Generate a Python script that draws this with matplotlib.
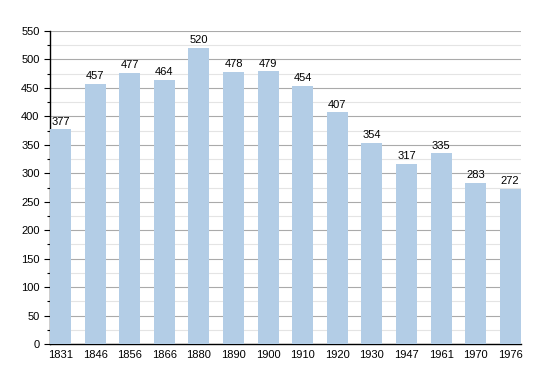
import numpy as np
import matplotlib.pyplot as plt
from matplotlib.ticker import MultipleLocator

plt.rcParams['font.family'] = ['Liberation Sans', 'DejaVu Sans']

years = ['1831', '1846', '1856', '1866', '1880', '1890', '1900',
         '1910', '1920', '1930', '1947', '1961', '1970', '1976']
population = [377, 457, 477, 464, 520, 478, 479, 454, 407, 354, 317, 335, 283, 272]

fig = plt.figure(figsize=(5.5, 3.73), dpi=100)
ax = fig.add_axes([0.0909, 0.0777, 0.856, 0.8392])

x = np.arange(len(years))
w = 0.61
ax.bar(x, population, width=w, color='#b3cde6', zorder=3)

for xi, v in zip(x, population):
    ax.text(xi, v + 5, str(v), ha='center', va='bottom', fontsize=8, zorder=4)

ax.set_xlim(-w / 2, len(years) - 1 + w / 2)
ax.set_ylim(0, 550)
ax.set_xticks(x)
ax.set_xticklabels(years, fontsize=8)
ax.yaxis.set_major_locator(MultipleLocator(50))
ax.yaxis.set_minor_locator(MultipleLocator(25))
ax.tick_params(axis='y', labelsize=8, length=4, width=0.8)
ax.tick_params(axis='y', which='minor', length=2.5, width=0.8)
ax.tick_params(axis='x', length=0, pad=4)

ax.grid(axis='y', which='major', color='#aaaaaa', linewidth=0.8, zorder=0)
ax.grid(axis='y', which='minor', color='#e4e4e4', linewidth=0.8, zorder=0)
for s in ['top', 'right']:
    ax.spines[s].set_visible(False)
ax.spines['left'].set_linewidth(1)
ax.spines['bottom'].set_linewidth(1)

fig.savefig('out.png', dpi=100)
